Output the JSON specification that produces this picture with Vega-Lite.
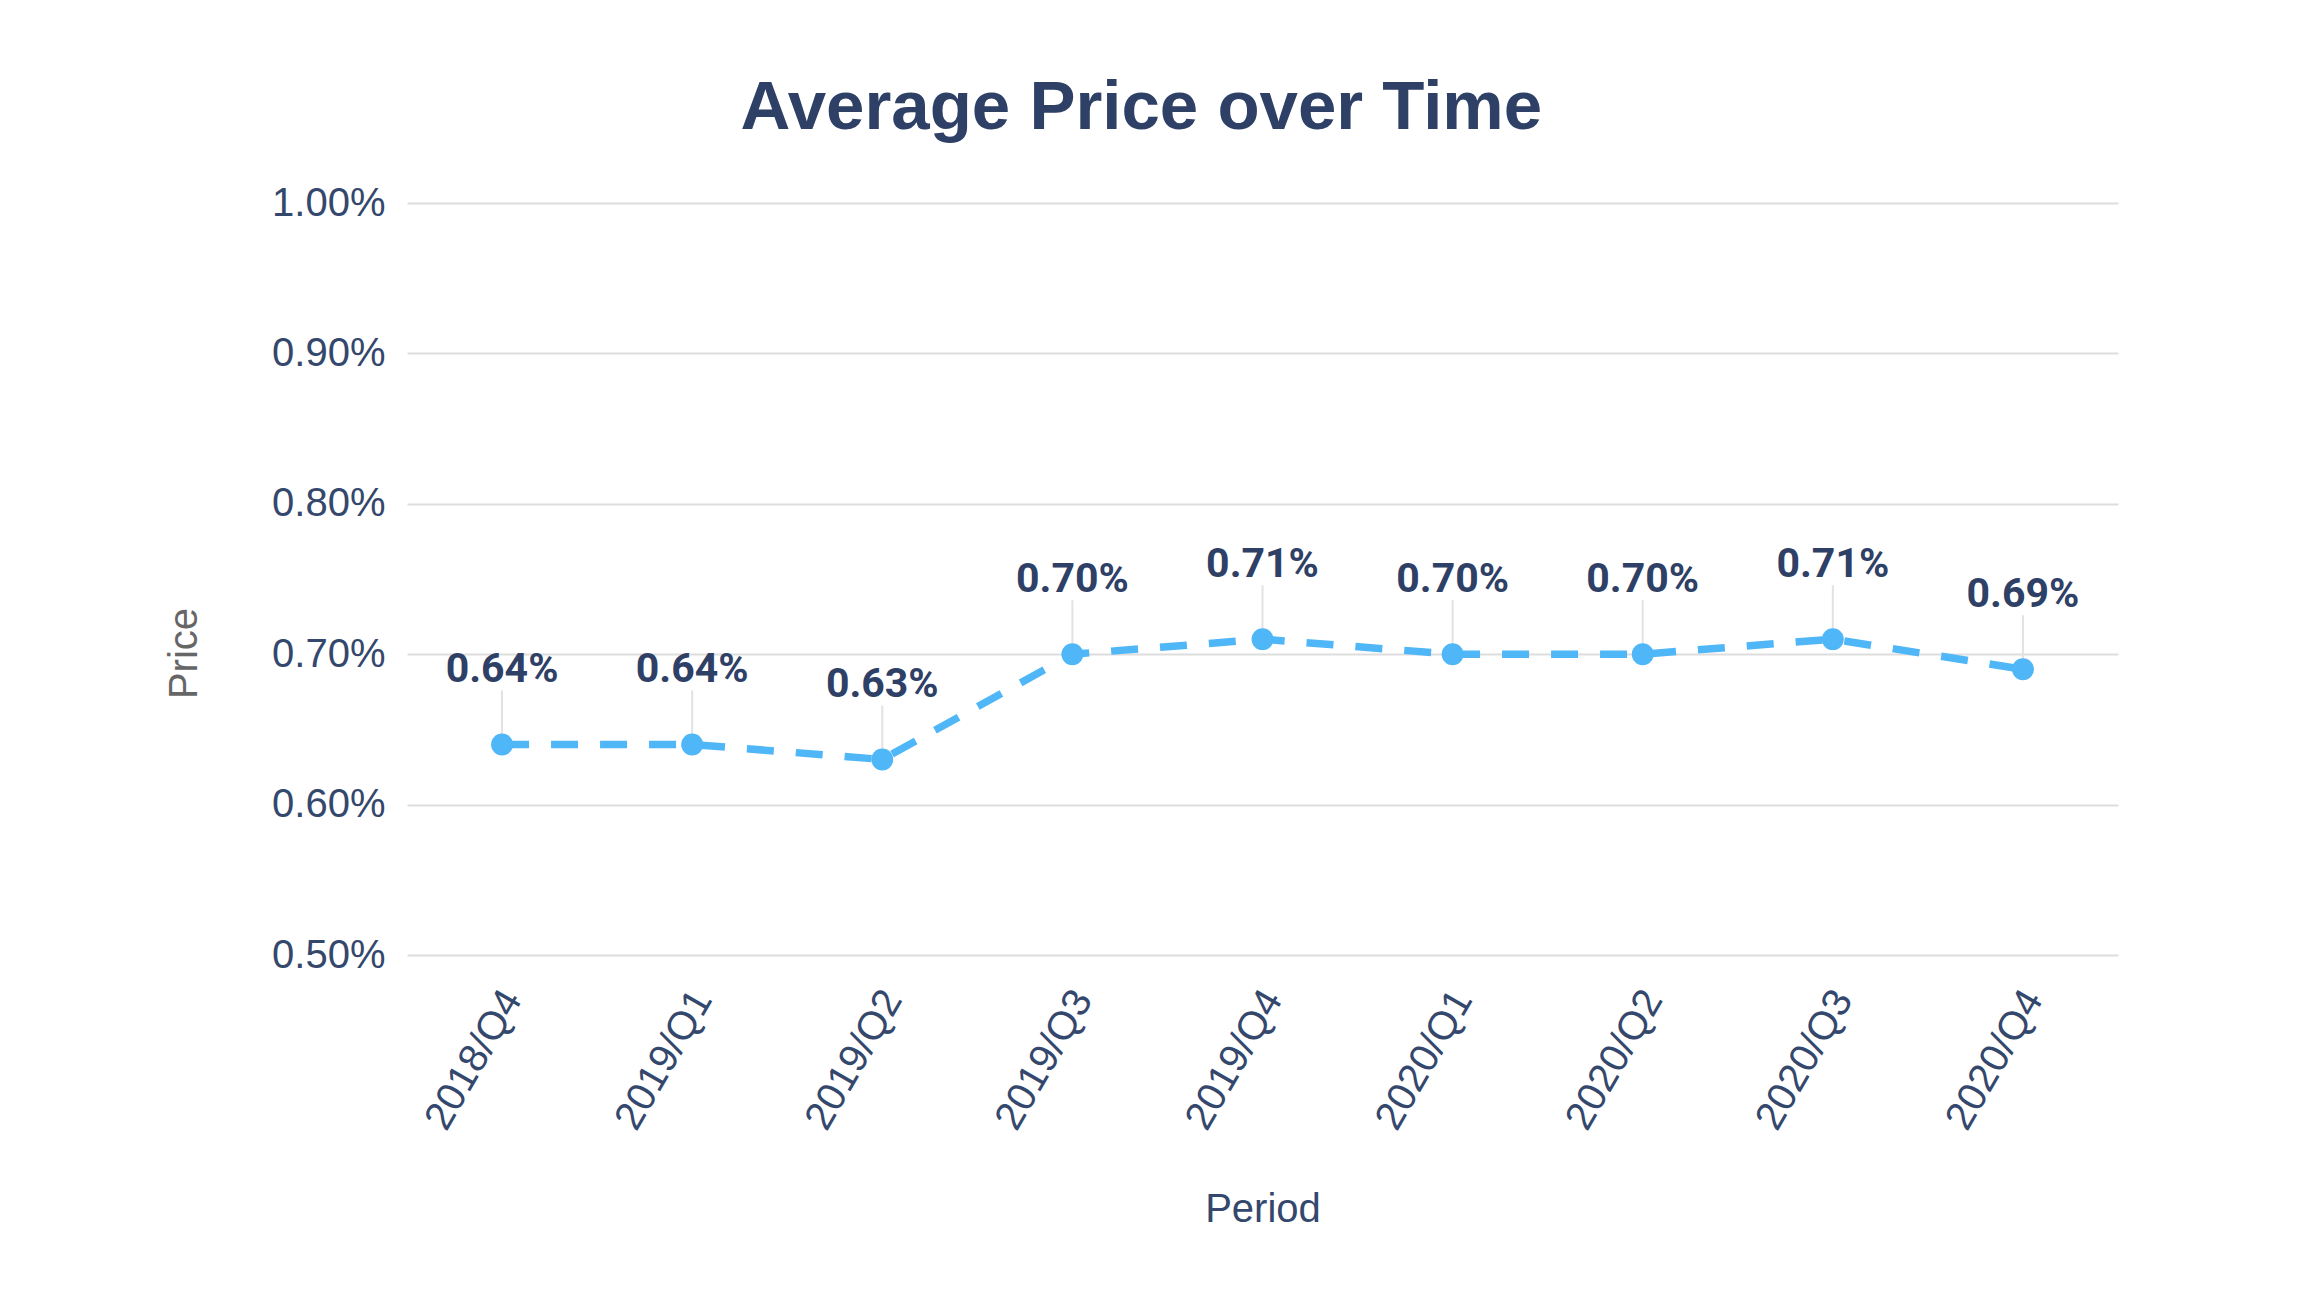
{
  "$schema": "https://vega.github.io/schema/vega-lite/v6.json",
  "width": 1711,
  "height": 752,
  "autosize": "none",
  "padding": {"left": 407, "top": 203, "right": 204, "bottom": 335},
  "background": "white",
  "title": {
    "text": "Average Price over Time",
    "font": "Liberation Sans",
    "fontSize": 69,
    "fontWeight": "bold",
    "color": "#2e4066",
    "anchor": "middle",
    "frame": "bounds",
    "baseline": "alphabetic",
    "offset": -15
  },
  "data": {
    "values": [
      {"period": "2018/Q4", "price": 0.0064},
      {"period": "2019/Q1", "price": 0.0064},
      {"period": "2019/Q2", "price": 0.0063},
      {"period": "2019/Q3", "price": 0.0070},
      {"period": "2019/Q4", "price": 0.0071},
      {"period": "2020/Q1", "price": 0.0070},
      {"period": "2020/Q2", "price": 0.0070},
      {"period": "2020/Q3", "price": 0.0071},
      {"period": "2020/Q4", "price": 0.0069}
    ]
  },
  "encoding": {
    "x": {
      "field": "period",
      "type": "ordinal",
      "sort": null,
      "scale": {"type": "point", "padding": 0.5},
      "title": "Period",
      "axis": {
        "labelAngle": -60,
        "labelAlign": "right",
        "labelBaseline": "middle",
        "labelFont": "Liberation Sans",
        "labelFontSize": 40,
        "labelColor": "#34476c",
        "labelPadding": 38,
        "labelOffset": 10,
        "labelOverlap": false,
        "ticks": false,
        "tickSize": 0,
        "domain": false,
        "grid": false,
        "titleFont": "Liberation Sans",
        "titleFontSize": 40,
        "titleFontWeight": "normal",
        "titleColor": "#34476c",
        "titlePadding": 54
      }
    },
    "y": {
      "field": "price",
      "type": "quantitative",
      "scale": {"domain": [0.005, 0.01], "nice": false, "zero": false},
      "title": "Price",
      "axis": {
        "values": [0.005, 0.006, 0.007, 0.008, 0.009, 0.01],
        "format": ".2%",
        "labelFont": "Liberation Sans",
        "labelFontSize": 40,
        "labelColor": "#34476c",
        "labelPadding": 22,
        "ticks": false,
        "tickSize": 0,
        "domain": false,
        "gridColor": "#dddddd",
        "gridWidth": 2,
        "titleFont": "Liberation Sans",
        "titleFontSize": 40,
        "titleFontWeight": "normal",
        "titleColor": "#666666",
        "titlePadding": 67,
        "titleY": 450
      }
    }
  },
  "layer": [
    {
      "mark": {"type": "rule", "color": "#e2e2e2", "strokeWidth": 2, "y2Offset": -54},
      "encoding": {"y2": {"field": "price"}}
    },
    {
      "mark": {"type": "line", "color": "#4fb6f7", "strokeWidth": 7.5, "strokeDash": [27, 22]},
      "encoding": {}
    },
    {
      "mark": {"type": "circle", "color": "#4fb6f7", "size": 480, "opacity": 1}
    },
    {
      "mark": {"type": "text", "font": "Roboto", "fontWeight": "bold", "fontSize": 41, "color": "#2e4066", "baseline": "alphabetic", "dy": -62},
      "encoding": {"text": {"field": "price", "format": ".2%"}}
    }
  ],
  "config": {"view": {"stroke": null}}
}
